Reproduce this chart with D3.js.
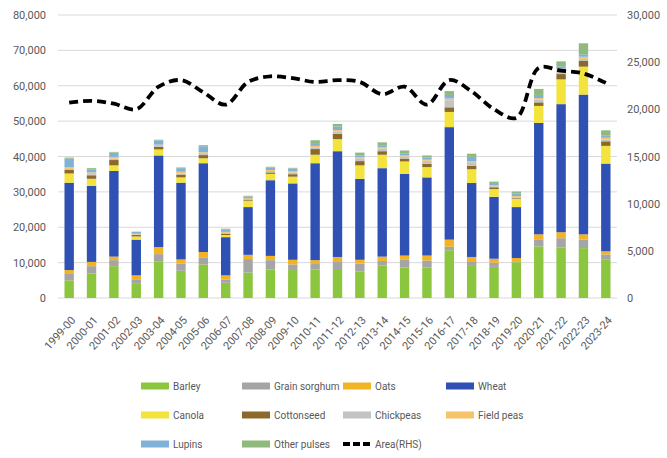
<!DOCTYPE html>
<html>
<head>
<meta charset="utf-8">
<script src="https://cdn.jsdelivr.net/npm/d3@7"></script>
<style>
  body { margin: 0; background: #fff; }
  text { font-family: Roboto, "Liberation Sans", sans-serif; fill: #595959; }
</style>
</head>
<body>
<div class="chart"></div>
<script>
// production ('000 t) by crop, and area ('000 ha) on the right axis
var years = ["1999-00", "2000-01", "2001-02", "2002-03", "2003-04", "2004-05", "2005-06", "2006-07",
  "2007-08", "2008-09", "2009-10", "2010-11", "2011-12", "2012-13", "2013-14", "2014-15",
  "2015-16", "2016-17", "2017-18", "2018-19", "2019-20", "2020-21", "2021-22", "2022-23", "2023-24"];

var barley      = [5000, 6900, 9000, 4000, 10400, 7700, 9500, 4300, 7200, 8000, 7900, 8000, 8200, 7500, 9200, 8600, 8600, 13500, 9300, 8800, 10100, 14600, 14300, 14100, 10800];
var sorghum     = [2000, 2100, 1700, 1300, 2000, 2000, 2000, 900, 3800, 2700, 1600, 1600, 2200, 2200, 1300, 2200, 2000, 1000, 1100, 1200, 300, 2000, 2600, 2400, 1500];
var oats        = [900, 1200, 1000, 1100, 2000, 1200, 1500, 1200, 1200, 1200, 1300, 1100, 1200, 1100, 1200, 1200, 1400, 2000, 1200, 1100, 900, 1400, 1700, 1500, 900];
var wheat       = [24700, 21500, 24200, 10100, 25900, 21700, 25100, 10800, 13500, 21400, 21600, 27400, 29900, 22900, 25000, 23100, 22100, 31800, 20900, 17500, 14400, 31500, 36200, 39500, 24800];
var canola      = [2600, 2000, 1600, 900, 1700, 1500, 1400, 600, 1800, 1800, 1900, 2400, 3400, 3800, 3800, 3500, 2900, 4300, 3900, 2200, 2300, 4800, 7000, 7900, 5000];
var cottonseed  = [1000, 1000, 1500, 400, 700, 800, 900, 300, 200, 400, 700, 1600, 1500, 1200, 1000, 800, 900, 1300, 1000, 500, 200, 1000, 1500, 1600, 1300];
var chickpeas   = [300, 300, 400, 150, 250, 300, 300, 300, 300, 400, 500, 500, 700, 800, 800, 600, 900, 2000, 1000, 300, 300, 800, 1000, 600, 500];
var fieldPeas   = [500, 500, 500, 200, 400, 500, 500, 300, 200, 300, 400, 400, 400, 300, 300, 300, 300, 500, 300, 300, 300, 400, 500, 600, 500];
var lupins      = [2400, 900, 1200, 500, 1200, 1000, 1700, 700, 500, 700, 700, 800, 1000, 500, 600, 600, 600, 1000, 1200, 600, 800, 900, 700, 700, 700];
var otherPulses = [300, 300, 200, 100, 200, 200, 300, 200, 200, 200, 200, 800, 700, 800, 800, 800, 600, 1100, 900, 400, 500, 1700, 1400, 3100, 1400];
var area        = [20700, 20900, 20600, 20000, 22400, 23100, 21800, 20500, 22900, 23500, 23300, 22900, 23100, 22900, 21600, 22400, 20500, 23100, 21900, 20000, 19100, 24400, 24100, 23800, 22800];

var seriesNames = ["Barley", "Grain sorghum", "Oats", "Wheat", "Canola", "Cottonseed", "Chickpeas", "Field peas", "Lupins", "Other pulses"];
var seriesData = [barley, sorghum, oats, wheat, canola, cottonseed, chickpeas, fieldPeas, lupins, otherPulses];
var colors = ["#8cc63f", "#a5a5a5", "#f2b325", "#2f51b3", "#f2e43c", "#8a6a2b", "#c3c3c3", "#f4c36a", "#80b1d6", "#8fb97d"];

var svgWidth = 667;
var svgHeight = 458;
var margin = { top: 15, right: 50, bottom: 160, left: 58 };
var width = svgWidth - margin.left - margin.right;
var height = svgHeight - margin.top - margin.bottom;

var svg = d3.select(".chart")
  .append("svg")
  .attr("width", svgWidth)
  .attr("height", svgHeight);

var chartGroup = svg.append("g")
  .attr("transform", `translate(${margin.left}, ${margin.top})`);

// build rows for the stack
var rows = years.map((y, i) => {
  let row = { year: y };
  seriesNames.forEach((s, j) => { row[s] = seriesData[j][i]; });
  return row;
});
var stacked = d3.stack().keys(seriesNames)(rows);

var xScale = d3.scaleBand()
  .domain(years)
  .range([0, width])
  .paddingInner(0.58)
  .paddingOuter(0.29);
var yLeft = d3.scaleLinear().domain([0, 80000]).range([height, 0]);
var yRight = d3.scaleLinear().domain([0, 30000]).range([height, 0]);

// gridlines
chartGroup.append("g")
  .selectAll("line")
  .data(yLeft.ticks(8))
  .enter()
  .append("line")
  .attr("x1", 0)
  .attr("x2", width)
  .attr("y1", d => yLeft(d))
  .attr("y2", d => yLeft(d))
  .attr("stroke", "#d9d9d9")
  .attr("stroke-width", 1);

// axes
var leftAxis = d3.axisLeft(yLeft).ticks(8).tickFormat(d3.format(",")).tickSize(0).tickPadding(12);
var rightAxis = d3.axisRight(yRight).ticks(6).tickFormat(d3.format(",")).tickSize(0).tickPadding(10);
var bottomAxis = d3.axisBottom(xScale).tickSize(0);

var gl = chartGroup.append("g").call(leftAxis);
var gr = chartGroup.append("g").attr("transform", `translate(${width}, 0)`).call(rightAxis);
[gl, gr].forEach(g => {
  g.select(".domain").remove();
  g.selectAll("text").attr("font-size", 11).style("fill", "#595959")
    .attr("font-family", "Roboto, 'Liberation Sans', sans-serif");
});

var gb = chartGroup.append("g")
  .attr("transform", `translate(0, ${height})`)
  .call(bottomAxis);
gb.select(".domain").remove();
gb.selectAll("text")
  .attr("font-size", 11)
  .attr("font-family", "Roboto, 'Liberation Sans', sans-serif")
  .style("fill", "#595959")
  .style("text-anchor", "end")
  .attr("x", 0)
  .attr("y", 0)
  .attr("dx", 0)
  .attr("dy", "0.35em")
  .attr("transform", "translate(4, 20) rotate(-48)");

// stacked bars
chartGroup.append("g")
  .selectAll("g")
  .data(stacked)
  .enter()
  .append("g")
  .attr("fill", (d, i) => colors[i])
  .selectAll("rect")
  .data(d => d)
  .enter()
  .append("rect")
  .attr("x", d => xScale(d.data.year))
  .attr("y", d => yLeft(d[1]))
  .attr("height", d => yLeft(d[0]) - yLeft(d[1]))
  .attr("width", xScale.bandwidth());

// area line (RHS)
var areaLine = d3.line()
  .x((d, i) => xScale(years[i]) + xScale.bandwidth() / 2)
  .y(d => yRight(d))
  .curve(d3.curveCatmullRom.alpha(0.5));

chartGroup.append("path")
  .datum(area)
  .attr("d", areaLine)
  .attr("fill", "none")
  .attr("stroke", "#000")
  .attr("stroke-width", 3.8)
  .attr("stroke-dasharray", "9,5");

// legend
var legendItems = seriesNames.map((s, i) => ({ name: s, color: colors[i], line: false }));
legendItems.push({ name: "Area(RHS)", color: "#000", line: true });
var colX = [141, 242, 343, 446];
var rowY = [386, 415, 444];

var legend = svg.append("g")
  .selectAll("g")
  .data(legendItems)
  .enter()
  .append("g")
  .attr("transform", (d, i) => `translate(${colX[i % 4]}, ${rowY[Math.floor(i / 4)]})`);

legend.filter(d => !d.line)
  .append("rect")
  .attr("x", 0)
  .attr("y", -3.5)
  .attr("width", 28)
  .attr("height", 7)
  .attr("fill", d => d.color);

legend.filter(d => d.line)
  .append("line")
  .attr("x1", 0)
  .attr("x2", 28)
  .attr("y1", 0)
  .attr("y2", 0)
  .attr("stroke", "#000")
  .attr("stroke-width", 3.8)
  .attr("stroke-dasharray", "7,3");

legend.append("text")
  .attr("x", 32)
  .attr("y", 0)
  .attr("dy", "0.35em")
  .attr("font-size", 10)
  .text(d => d.name);
</script>
</body>
</html>
